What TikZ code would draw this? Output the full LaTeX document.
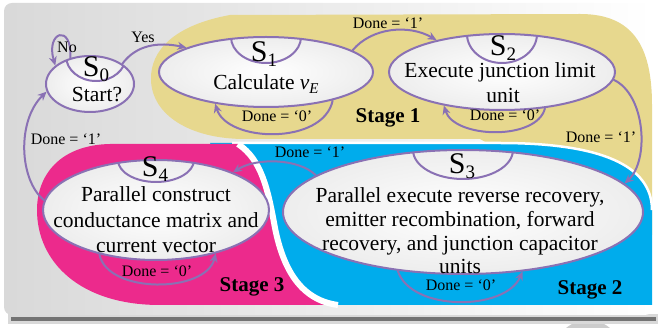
\documentclass[tikz,border=0pt]{standalone}
\usepackage{fontspec}
\setmainfont{Liberation Serif}
\usetikzlibrary{shapes.geometric,arrows.meta}
\definecolor{styel}{RGB}{231,216,142}
\definecolor{stblue}{RGB}{0,172,236}
\definecolor{stpink}{RGB}{236,42,140}
\definecolor{stpurp}{RGB}{138,113,180}
\newcommand\ssub[1]{\raisebox{-5pt}{\fontsize{19}{19}\selectfont #1}}
\begin{document}
\begin{tikzpicture}[x=1pt,y=-1pt,
  stnode/.style={ellipse, draw=stpurp, line width=2pt, inner sep=0pt, inner color=white, outer color=black!7},
  conn/.style={draw=stpurp, line width=2pt, -{Stealth[length=9pt,width=8pt]}},
  lbl/.style={inner sep=0pt, anchor=base, font=\fontsize{16}{18}\selectfont},
  stg/.style={inner sep=0pt, anchor=base, font=\fontsize{21}{24}\selectfont\bfseries},
  sttext/.style={inner sep=0pt, anchor=base, font=\fontsize{21.5}{26}\selectfont},
  slab/.style={inner sep=0pt, anchor=base, font=\fontsize{30}{32}\selectfont},
  capline/.style={draw=stpurp, line width=2pt},
]
\useasboundingbox (0,0) rectangle (661,328);
% background
\fill[black!20] (588,354) circle (34);
\fill[black!15] (8,314) rectangle (658,324);
\fill[black!55] (11,317.5) rectangle (656,321);
\shade[rounded corners=8pt, left color=black!15, right color=white] (4,3) rectangle (653,315);
% stage regions
\fill[styel] (151,80) .. controls (150,50) and (175,25) .. (230,15) -- (580,14) .. controls (632,14) and (652,45) .. (652,105) -- (652,235) -- (480,139) -- (245,139) .. controls (190,139) and (152,115) .. (151,80) -- cycle;
\fill[stblue] (210,143) -- (500,143) .. controls (600,143) and (652,165) .. (652,210) -- (652,305) -- (300,305) -- cycle;
\draw[white, line width=2.5pt] (232,143) -- (500,143) .. controls (600,143) and (652,165) .. (652,210);
\fill[stpink] (238,144) -- (110,144) .. controls (60,145) and (37,175) .. (37,210) .. controls (37,262) and (80,305) .. (160,305) -- (338,305) .. controls (300,300) and (283,268) .. (275,228) .. controls (268,190) and (262,160) .. (238,144) -- cycle;
\draw[white, line width=6pt] (338,305) .. controls (300,300) and (283,268) .. (275,228) .. controls (268,190) and (262,160) .. (238,144);
% states
\node[stnode, minimum width=88pt, minimum height=56pt,
  path picture={\draw[capline] ([xshift=6pt]path picture bounding box.north) ellipse [x radius=30pt, y radius=25pt];}] (s0) at (90,84) {};
\node[stnode, minimum width=214pt, minimum height=70pt,
  path picture={\draw[capline] (path picture bounding box.north) ellipse [x radius=35pt, y radius=26pt];}] (s1) at (266,72) {};
\node[stnode, minimum width=226pt, minimum height=76pt,
  path picture={\draw[capline] (path picture bounding box.north) ellipse [x radius=35pt, y radius=29pt];}] (s2) at (502,72) {};
\node[stnode, minimum width=360pt, minimum height=124pt,
  path picture={\draw[capline] (path picture bounding box.north) ellipse [x radius=50pt, y radius=29pt];}] (s3) at (463,212) {};
\node[stnode, minimum width=226pt, minimum height=100pt,
  path picture={\draw[capline] (path picture bounding box.north) ellipse [x radius=38pt, y radius=22pt];}] (s4) at (156,210) {};
% state labels
\node[slab] (l0) at (96,77) {S\ssub{0}};
\node[slab] (l1) at (264,62) {S\ssub{1}};
\node[slab] (l2) at (503,56) {S\ssub{2}};
\node[slab] (l3) at (462,174) {S\ssub{3}};
\node[slab] (l4) at (155,177) {S\ssub{4}};
% state texts
\node[sttext] (t0) at (97,102) {Start?};
\node[sttext] (t1) at (266,90) {Calculate \textit{v}\raisebox{-4pt}{\fontsize{15}{15}\selectfont\textit{E}}};
\node[sttext] (t2a) at (500,78) {Execute junction limit};
\node[sttext] (t2b) at (503,103) {unit};
\node[sttext] (t3a) at (460,203) {Parallel execute reverse recovery,};
\node[sttext] (t3b) at (460,227) {emitter recombination, forward};
\node[sttext] (t3c) at (460,251) {recovery, and junction capacitor};
\node[sttext] (t3d) at (460,274) {units};
\node[sttext] (t4a) at (156,202) {Parallel construct};
\node[sttext] (t4b) at (156,228) {conductance matrix and};
\node[sttext] (t4c) at (156,253) {current vector};
% connectors
\draw[conn] (s0.127) .. controls +(2,-35) and +(-10,-34) .. (s0.152);
\draw[conn] (s0.32) .. controls +(14,-19) and +(-28,-6) .. (s1.163);
\draw[conn] (s1.14) .. controls +(19,-23) and +(-28,-16) .. (s2.154);
\draw[conn] (s1.337) .. controls +(-9,45) and +(12,39) .. (s1.212);
\draw[conn] (s2.320) .. controls +(-8,33) and +(10,33) .. (s2.210);
\draw[conn] (s2.356) .. controls +(32,15) and +(25,-23) .. (s3.10);
\draw[conn] (s3.166) .. controls +(-17,-17) and +(23,-15) .. (s4.26);
\draw[conn] (s4.218) .. controls +(8,40) and +(-10,40) .. (s4.324);
\draw[conn] (s3.222) .. controls +(13,41) and +(-17,40) .. (s3.315);
\draw[conn] (s4.175) .. controls +(-25,-20) and +(-30,29) .. (s0.190);
% connector labels
\node[lbl] (n0) at (67,53) {No};
\node[lbl] (y0) at (143,43) {Yes};
\node[lbl] (d12) at (388,29) {Done = `1'};
\node[lbl] (d11) at (277,122) {Done = `0'};
\node[lbl] (d22) at (505,121) {Done = `0'};
\node[lbl] (d23) at (601,143) {Done = `1'};
\node[lbl] (d40) at (66,145) {Done = `1'};
\node[lbl] (d34) at (310,158) {Done = `1'};
\node[lbl] (d44) at (157,277) {Done = `0'};
\node[lbl] (d33) at (461,291) {Done = `0'};
% stage labels
\node[stg] (g1) at (388,123) {Stage 1};
\node[stg] (g3) at (252,292) {Stage 3};
\node[stg] (g2) at (590,295) {Stage 2};
\end{tikzpicture}
\end{document}
